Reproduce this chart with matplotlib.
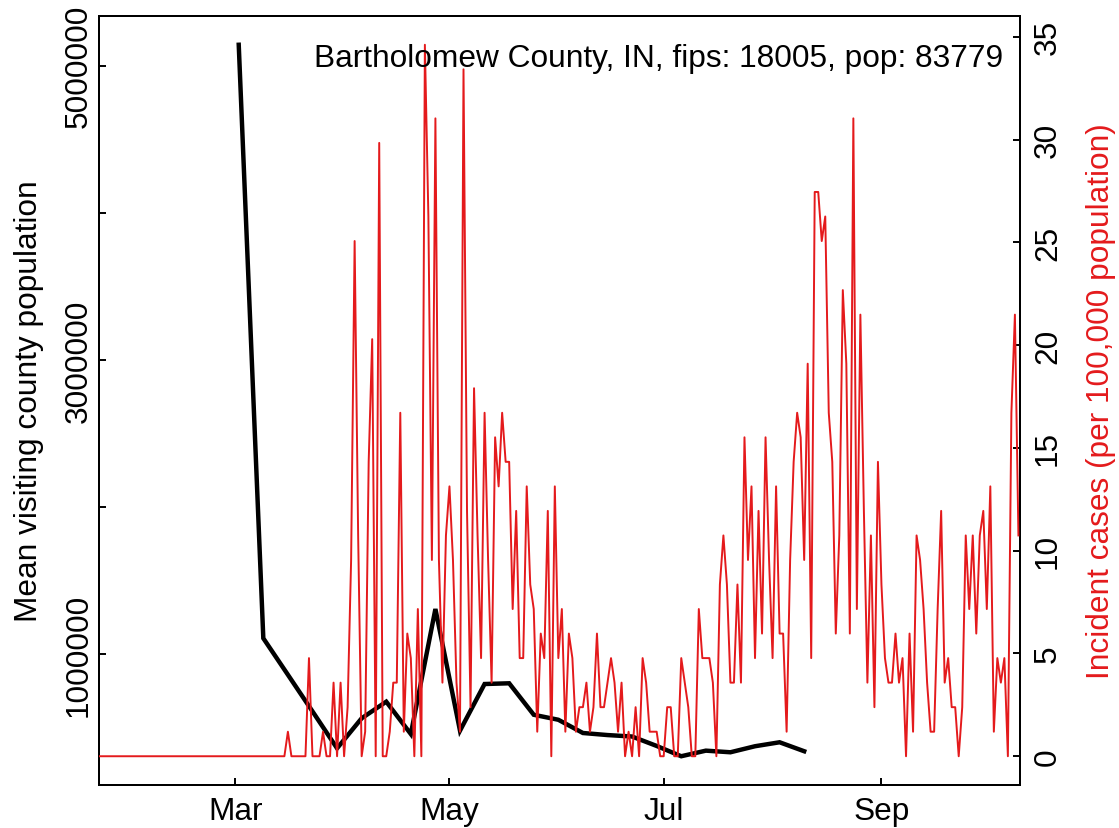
import numpy as np
import pandas as pd
import matplotlib
matplotlib.use("Agg")
import matplotlib.pyplot as plt
import matplotlib.dates as mdates

plt.rcParams['font.family'] = ['Liberation Sans', 'DejaVu Sans']

# ---------------- data ----------------
title_text = "Bartholomew County, IN, fips: 18005, pop: 83779"
population = 83779

# daily new cases (counts) from 2020-01-22
case_start = "2020-01-22"
daily_cases = [
    0, 0, 0, 0, 0, 0, 0, 0, 0, 0, 0, 0, 0, 0, 0, 0, 0, 0, 0, 0,
    0, 0, 0, 0, 0, 0, 0, 0, 0, 0, 0, 0, 0, 0, 0, 0, 0, 0, 0, 0,
    0, 0, 0, 0, 0, 0, 0, 0, 0, 0, 0, 0, 0, 0, 1, 0, 0, 0, 0, 0,
    4, 0, 0, 0, 1, 0, 0, 3, 0, 3, 0, 2, 8, 21, 9, 0, 1, 12, 17, 0,
    25, 0, 0, 1, 3, 3, 14, 1, 5, 4, 0, 6, 0, 29, 22, 8, 26, 8, 3, 9,
    11, 8, 3, 1, 28, 10, 2, 15, 9, 4, 14, 8, 3, 13, 11, 14, 12, 12, 6, 10,
    4, 4, 11, 7, 6, 1, 5, 4, 10, 0, 11, 4, 6, 1, 5, 4, 1, 2, 2, 3,
    1, 2, 5, 2, 2, 3, 4, 3, 1, 3, 0, 1, 0, 2, 0, 4, 3, 1, 1, 1,
    0, 0, 2, 2, 0, 0, 4, 3, 2, 0, 0, 6, 4, 4, 4, 3, 0, 7, 9, 7,
    3, 3, 7, 3, 13, 8, 11, 4, 10, 5, 13, 8, 4, 11, 5, 5, 1, 8, 12, 14,
    13, 8, 16, 4, 23, 23, 21, 22, 14, 12, 5, 9, 19, 16, 5, 26, 6, 18, 10, 3,
    9, 2, 12, 7, 4, 3, 3, 5, 3, 4, 0, 5, 1, 9, 8, 6, 3, 1, 1, 6,
    10, 3, 4, 2, 2, 0, 2, 9, 6, 9, 5, 9, 10, 6, 11, 1, 4, 3, 4, 0,
    14, 18, 9,
]

# weekly mean visiting county population, from 2020-03-02
visit_start = "2020-03-02"
mean_visiting = [
    5142000, 1107000, 859000, 610000, 359000, 563000, 676000, 456000,
    1306000, 479000, 796000, 801000, 587000, 553000, 463000, 449000,
    439000, 375000, 305000, 343000, 332000, 373000, 400000, 339000,
]

x_tick_dates = ["2020-03-01", "2020-05-01", "2020-07-01", "2020-09-01"]
x_tick_labels = ["Mar", "May", "Jul", "Sep"]
left_ticks = [1000000, 2000000, 3000000, 4000000, 5000000]
left_tick_labels = ["1000000", "", "3000000", "", "5000000"]
right_ticks = [0, 5, 10, 15, 20, 25, 30, 35]

case_dates = pd.date_range(case_start, periods=len(daily_cases), freq="D")
visit_dates = pd.date_range(visit_start, periods=len(mean_visiting), freq="7D")
incidence = np.array(daily_cases) * 100000.0 / population

# ---------------- figure ----------------
W, H = 1119, 829
fig = plt.figure(figsize=(W / 100, H / 100), dpi=100)
left_px, right_px, top_px, bot_px = 99.3, 1020.0, 17.3, 785.7
ax = fig.add_axes([left_px / W, 1 - bot_px / H, (right_px - left_px) / W, (bot_px - top_px) / H])
ax2 = ax.twinx()

red = "#E41A1C"
fs = 22.8

ax.plot(visit_dates, mean_visiting, color="black", lw=3.2, solid_joinstyle="miter", zorder=2)
ax2.plot(case_dates, incidence, color=red, lw=1.4, zorder=3)

def rlim(v):
    lo, hi = float(np.min(v)), float(np.max(v))
    r = hi - lo
    return lo - 0.04 * r, hi + 0.04 * r

ax.set_ylim(*rlim(mean_visiting))
ax2.set_ylim(*rlim(incidence))

x0 = mdates.date2num(pd.Timestamp(case_start)) + 0.3
x1 = mdates.date2num(case_dates[-1]) + 0.45
ax.set_xlim(x0, x1)

ax.set_xticks(mdates.date2num(pd.to_datetime(x_tick_dates)))
ax.set_xticklabels(x_tick_labels, fontsize=fs)
ax.set_yticks(left_ticks)
ax.set_yticklabels(left_tick_labels, fontsize=fs, rotation=90, va="center")
ax2.set_yticks(right_ticks)
ax2.set_yticklabels([str(t) for t in right_ticks], fontsize=fs, rotation=90, va="center")

ax.tick_params(axis="x", direction="in", length=5, width=1.4, pad=8)
ax.tick_params(axis="y", direction="in", length=5, width=1.4, pad=4)
ax2.tick_params(axis="y", direction="in", length=5, width=1.4, pad=9.4)

for a in (ax, ax2):
    for s in a.spines.values():
        s.set_linewidth(1.4)
        s.set_color("black")

fig.text(28.9 / W, 1 - 401.5 / H, "Mean visiting county population", rotation=90,
         ha="center", va="center", fontsize=fs, color="black")
fig.text(1100.7 / W, 1 - 401.5 / H, "Incident cases (per 100,000 population)", rotation=90,
         ha="center", va="center", fontsize=fs, color=red)
fig.text(1003 / W, 1 - 67 / H, title_text, ha="right", va="baseline", fontsize=fs, color="black")

fig.savefig("out.png", dpi=100)
